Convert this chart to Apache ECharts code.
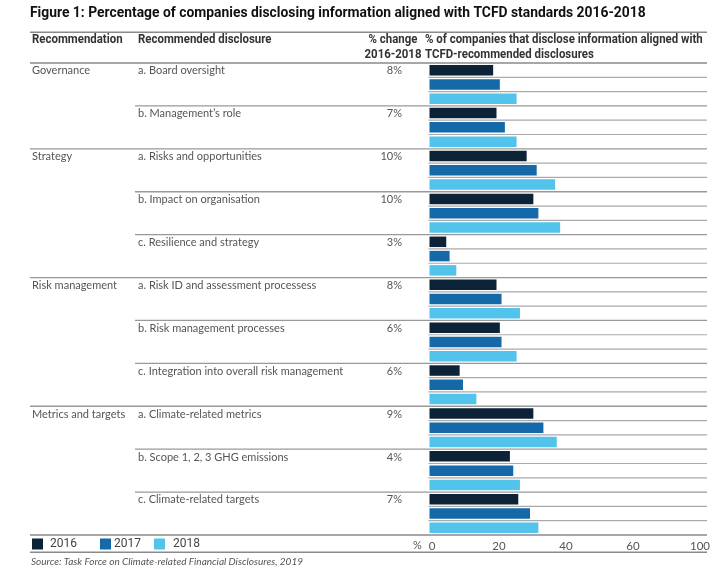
<!DOCTYPE html>
<html><head><meta charset="utf-8">
<script src="https://cdn.jsdelivr.net/npm/echarts@6/dist/echarts.min.js"></script>
<style>html,body{margin:0;padding:0;background:#fff}#c{width:719px;height:570px}</style>
</head><body><div id="c"></div>
<script>
const titleText = 'Figure 1: Percentage of companies disclosing information aligned with TCFD standards 2016-2018';
const recNames = ['Governance', 'Strategy', 'Risk management', 'Metrics and targets'];
const recStart = [0, 2, 5, 8];
const disclosures = [
  'a. Board oversight',
  'b. Management\u2019s role',
  'a. Risks and opportunities',
  'b. Impact on organisation',
  'c. Resilience and strategy',
  'a. Risk ID and assessment processess',
  'b. Risk management processes',
  'c. Integration into overall risk management',
  'a. Climate-related metrics',
  'b. Scope 1, 2, 3 GHG emissions',
  'c. Climate-related targets'
];
const pctChange = ['8%', '7%', '10%', '10%', '3%', '8%', '6%', '6%', '9%', '4%', '7%'];
const years = ['2016', '2017', '2018'];
const v2016 = [19, 20, 29, 31, 5, 20, 21, 9, 31, 24, 26.5];
const v2017 = [21, 22.5, 32, 32.5, 6, 21.5, 21.5, 10, 34, 25, 30];
const v2018 = [26, 26, 37.5, 39, 8, 27, 26, 14, 38, 27, 32.5];
const tickValues = [0, 20, 40, 60, 80];
const tickLabels = ['0', '20', '40', '60', '100'];

const colors = ['#0c2337', '#1669a8', '#52c3ea'];
const COND = 'Roboto, sans-serif';
const BODY = 'Lato, "Open Sans", sans-serif';

const L = { left: 429.5, right: 707, top: 63, bottom: 535, lineLeft: 30, discLeft: 135 };
const rows = [];
disclosures.forEach((d, i) => years.forEach(y => rows.push(d + ' ' + y)));

const mctx = document.createElement('canvas').getContext('2d');
function measure(text, size, weight, family, style) {
  mctx.font = (style || 'normal') + ' ' + (weight || 'normal') + ' ' + size + 'px ' + family;
  return mctx.measureText(text).width;
}

const legendLeft = [32, 100, 154];
const legendTextPad = [2, -2, 3];

const chart = echarts.init(document.getElementById('c'), null, { renderer: 'canvas' });
const option = {
  animation: false,
  color: colors,
  grid: { left: L.left, right: 719 - L.right, top: L.top, bottom: 570 - L.bottom, containLabel: false },
  xAxis: {
    type: 'value', min: 0, max: (L.right - L.left) / 3.35, interval: 20,
    axisLine: { show: false }, axisTick: { show: false }, splitLine: { show: false },
    axisLabel: {
      color: '#555', fontSize: 11.5, fontFamily: BODY, margin: 5, padding: [0, 0, 0, 5],
      showMinLabel: true, showMaxLabel: true,
      formatter: v => { const k = tickValues.indexOf(v); return k >= 0 ? tickLabels[k] : ''; }
    }
  },
  yAxis: [
    { type: 'category', data: disclosures, inverse: true, show: false },
    { type: 'category', data: rows, inverse: true, show: false }
  ],
  legend: years.map((y, i) => ({
    left: legendLeft[i], top: 538, padding: 0, icon: 'rect', itemWidth: 11, itemHeight: 11,
    textStyle: { color: '#444', fontSize: 12, fontFamily: COND, padding: [0, 0, 0, legendTextPad[i]] },
    data: [y]
  })),
  series: [v2016, v2017, v2018].map((vals, i) => ({
    name: years[i], type: 'bar', yAxisIndex: 0, data: vals,
    barWidth: 10.5, barGap: '36%', itemStyle: { color: colors[i] }
  }))
};
chart.setOption(option);

const c0 = chart.convertToPixel({ yAxisIndex: 1 }, 0);
const c1 = chart.convertToPixel({ yAxisIndex: 1 }, 1);
const rowH = c1 - c0;
const rowTop = r => chart.convertToPixel({ yAxisIndex: 1 }, r) - rowH / 2;
const rowMid = r => chart.convertToPixel({ yAxisIndex: 1 }, r);
const g = [];
const hline = (x1, x2, y, color, w) => g.push({ type: 'line', silent: true, shape: { x1, y1: y, x2, y2: y }, style: { stroke: color, lineWidth: w } });
const txt = (x, y, text, opts, scaleX) => g.push({ type: 'text', silent: true, x, y, scaleX: scaleX || 1, style: Object.assign({ text, textVerticalAlign: 'middle', verticalAlign: 'middle', fill: '#555', fontSize: 11, fontFamily: BODY }, opts) });

hline(L.lineLeft, L.right, 32.3, '#8a8a8a', 1.5);
hline(L.lineLeft, L.right, rowTop(0), '#8a8a8a', 1.5);
for (let b = 1; b < rows.length; b++) {
  const y = rowTop(b);
  if (b % 3 === 0) {
    const gi = b / 3;
    hline(recStart.indexOf(gi) >= 0 ? L.lineLeft : L.discLeft, L.right, y, '#999', 1.3);
  } else {
    hline(L.left - 1, L.right, y, '#aaa', 1.2);
  }
}
hline(L.lineLeft, L.right, rowTop(rows.length - 1) + rowH, '#8a8a8a', 1.5);
hline(L.lineLeft, L.right, 552.3, '#8a8a8a', 1.5);

const tSize = 15.5;
const tScale = 615.7 / measure(titleText, tSize, 'bold', COND);
txt(30, 13, titleText, { fill: '#111', fontSize: tSize, fontWeight: 'bold', fontFamily: COND }, tScale);

const hSize = 12;
const hScale = 277.7 / measure('% of companies that disclose information aligned with', hSize, 'bold', COND);
const hdr = { fill: '#333', fontSize: hSize, fontWeight: 'bold', fontFamily: COND };
txt(32, 40, 'Recommendation', hdr, hScale);
txt(138, 40, 'Recommended disclosure', hdr, hScale);
txt(393, 39.5, '% change', Object.assign({ align: 'center', textAlign: 'center' }, hdr), hScale);
txt(393, 54.7, '2016-2018', Object.assign({ align: 'center', textAlign: 'center' }, hdr), hScale);
txt(425, 39.5, '% of companies that disclose information aligned with', hdr, hScale);
txt(425, 54.7, 'TCFD-recommended disclosures', hdr, hScale);

recNames.forEach((n, i) => txt(32, rowMid(recStart[i] * 3) + 0.7, n));
disclosures.forEach((d, i) => {
  txt(138, rowMid(i * 3) + 0.7, d);
  txt(402, rowMid(i * 3) + 0.7, pctChange[i], { align: 'right', textAlign: 'right' });
});
txt(413, 545, '%', { fontSize: 11 });
const srcText = 'Source: Task Force on Climate-related Financial Disclosures, 2019';
const sScale = 272 / measure(srcText, 9.5, 'normal', BODY, 'italic');
txt(31, 561.5, srcText, { fontSize: 9.5, fontStyle: 'italic' }, sScale);

chart.setOption({ graphic: { elements: g } });
</script>
</body></html>
